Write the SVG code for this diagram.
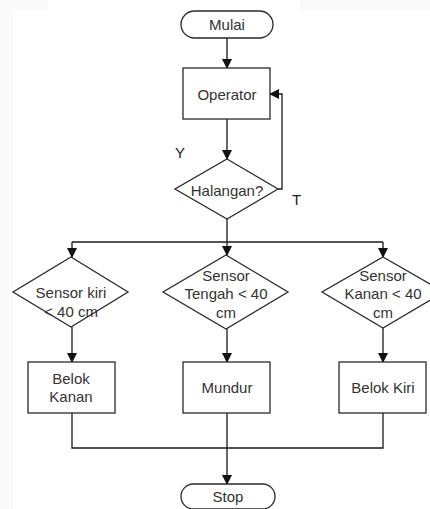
<svg xmlns="http://www.w3.org/2000/svg" width="430" height="509" viewBox="0 0 430 509">
<defs>
<style>
.s{fill:#fff;stroke:#2a2a2a;stroke-width:1.3}
.c{fill:none;stroke:#1a1a1a;stroke-width:1.3}
.t{font-family:"Liberation Sans",Arial,sans-serif;font-size:15px;fill:#333;text-anchor:middle;dominant-baseline:central}
.l{font-family:"Liberation Sans",Arial,sans-serif;font-size:15px;fill:#222}
</style>
<marker id="a" markerWidth="10" markerHeight="10" refX="9" refY="5" orient="auto" markerUnits="userSpaceOnUse">
<path d="M0,0 L10,5 L0,10 Z" fill="#111"/>
</marker>
</defs>
<rect x="0" y="0" width="430" height="509" fill="#fff"/>
<rect x="0" y="0" width="13" height="509" fill="#f9f9f9"/>
<rect x="0" y="0" width="48" height="10" fill="#f9f9f9"/>
<rect x="300" y="0" width="130" height="10" fill="#f9f9f9"/>
<g id="connectors">
<path class="c" d="M227,38 V68" marker-end="url(#a)"/>
<path class="c" d="M227,119 V159" marker-end="url(#a)"/>
<path class="c" d="M278,189 H282 V94 H270" marker-end="url(#a)"/>
<path class="c" d="M227,219 V255" marker-end="url(#a)"/>
<path class="c" d="M72,242 H383"/>
<path class="c" d="M72,242 V257" marker-end="url(#a)"/>
<path class="c" d="M383,242 V257" marker-end="url(#a)"/>
<path class="c" d="M72,327 V362" marker-end="url(#a)"/>
<path class="c" d="M227,329 V362" marker-end="url(#a)"/>
<path class="c" d="M383,328 V362" marker-end="url(#a)"/>
<path class="c" d="M72,413 V448 H383 V413"/>
<path class="c" d="M227,413 V484" marker-end="url(#a)"/>
<text class="l" x="175" y="158">Y</text>
<text class="l" x="292" y="205">T</text>
</g>
<g id="mulai">
<rect class="s" x="181" y="11" width="92" height="27" rx="13.5"/>
<text class="t" x="227" y="24.5">Mulai</text>
</g>
<g id="operator">
<rect class="s" x="183" y="68" width="87" height="51"/>
<text class="t" x="227" y="94">Operator</text>
</g>
<g id="halangan">
<polygon class="s" points="227,159 278,189 227,219 175,189"/>
<text class="t" x="227" y="190">Halangan?</text>
</g>
<g id="sensor-kiri">
<polygon class="s" points="71,257 128,292 71,327 13,292"/>
<text class="t" x="71" y="292">Sensor kiri</text>
<text class="t" x="71" y="311">&lt; 40 cm</text>
</g>
<g id="sensor-tengah">
<polygon class="s" points="226,255 288,292 226,329 163,292"/>
<text class="t" x="226" y="275">Sensor</text>
<text class="t" x="226" y="293">Tengah &lt; 40</text>
<text class="t" x="226" y="312">cm</text>
</g>
<g id="sensor-kanan">
<polygon class="s" points="383,257 444,292 383,328 322,292"/>
<text class="t" x="383" y="275">Sensor</text>
<text class="t" x="383" y="293">Kanan &lt; 40</text>
<text class="t" x="383" y="312">cm</text>
</g>
<g id="belok-kanan">
<rect class="s" x="28" y="362" width="87" height="51"/>
<text class="t" x="71" y="378">Belok</text>
<text class="t" x="71" y="396">Kanan</text>
</g>
<g id="mundur">
<rect class="s" x="183" y="362" width="87" height="51"/>
<text class="t" x="227" y="387">Mundur</text>
</g>
<g id="belok-kiri">
<rect class="s" x="339" y="362" width="87" height="51"/>
<text class="t" x="383" y="387">Belok Kiri</text>
</g>
<g id="stop">
<rect class="s" x="181" y="484" width="94" height="25" rx="12.5"/>
<text class="t" x="228" y="496">Stop</text>
</g>
</svg>
